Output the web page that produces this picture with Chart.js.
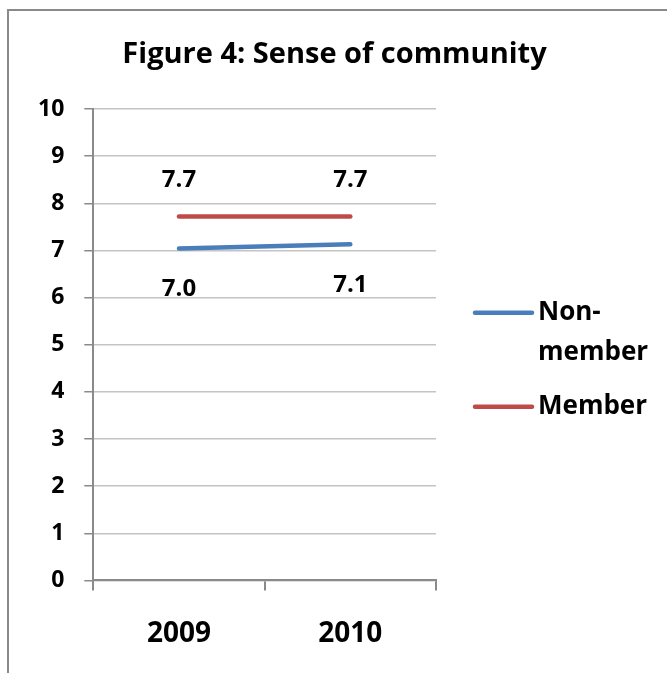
<!DOCTYPE html>
<html>
<head>
<meta charset="utf-8">
<script src="https://cdn.jsdelivr.net/npm/chart.js@4/dist/chart.umd.min.js"></script>
<style>
html,body{margin:0;padding:0;background:#fff;}
canvas{display:block;}
</style>
</head>
<body>
<canvas id="c" width="667" height="673"></canvas>
<script>
const categories = ['2009', '2010'];
const nonMember = [7.04, 7.13];
const member = [7.72, 7.72];
const seriesNames = [['Non-', 'member'], 'Member'];
const yTicks = [0, 1, 2, 3, 4, 5, 6, 7, 8, 9, 10];
const titleText = 'Figure 4: Sense of community';

const FONT = '"Open Sans"';
const BLUE = '#4a7ebb';
const RED = '#be4b48';

const framePlugin = {
  id: 'frame',
  beforeDraw(chart) {
    const ctx = chart.ctx;
    ctx.save();
    ctx.fillStyle = '#fff';
    ctx.fillRect(0, 0, chart.width, chart.height);
    ctx.strokeStyle = '#8a8a8a';
    ctx.lineWidth = 2;
    ctx.strokeRect(8, 10, chart.width + 20, chart.height + 20);
    ctx.font = '700 29px ' + FONT;
    ctx.fillStyle = '#000';
    ctx.textAlign = 'center';
    ctx.textBaseline = 'alphabetic';
    ctx.fillText(titleText, chart.width / 2 + 1, 63);
    ctx.restore();
  }
};

const labelPlugin = {
  id: 'valueLabels',
  afterDatasetsDraw(chart) {
    const ctx = chart.ctx;
    ctx.save();
    ctx.font = '700 24px ' + FONT;
    ctx.fillStyle = '#000';
    ctx.textAlign = 'center';
    ctx.textBaseline = 'middle';
    chart.data.datasets.forEach((ds, di) => {
      const meta = chart.getDatasetMeta(di);
      meta.data.forEach((pt, i) => {
        const off = di === 0 ? 41 : -36;
        ctx.fillText(ds.data[i].toFixed(1), pt.x, pt.y + off);
      });
    });
    ctx.restore();
  }
};

const legendPlugin = {
  id: 'customLegend',
  afterDraw(chart) {
    const ctx = chart.ctx;
    const a = chart.chartArea;
    const x0 = a.right + 39, x1 = a.right + 96, tx = a.right + 102;
    const mid = (a.top + a.bottom) / 2;
    const items = [
      {y: mid - 32, color: chart.data.datasets[0].borderColor, text: seriesNames[0]},
      {y: mid + 62, color: chart.data.datasets[1].borderColor, text: seriesNames[1]}
    ];
    ctx.save();
    ctx.font = '700 26px ' + FONT;
    ctx.fillStyle = '#000';
    ctx.textAlign = 'left';
    ctx.textBaseline = 'middle';
    items.forEach(it => {
      ctx.strokeStyle = it.color;
      ctx.lineWidth = 4.5;
      ctx.lineCap = 'round';
      ctx.beginPath();
      ctx.moveTo(x0, it.y);
      ctx.lineTo(x1, it.y);
      ctx.stroke();
      const lines = Array.isArray(it.text) ? it.text : [it.text];
      lines.forEach((t, k) => ctx.fillText(t, tx, it.y + k * 40));
    });
    ctx.restore();
  }
};

new Chart(document.getElementById('c'), {
  type: 'line',
  data: {
    labels: categories,
    datasets: [
      {label: 'Non-member', data: nonMember, borderColor: BLUE, backgroundColor: BLUE,
       borderWidth: 4.5, borderCapStyle: 'round', pointRadius: 0, tension: 0},
      {label: 'Member', data: member, borderColor: RED, backgroundColor: RED,
       borderWidth: 4.5, borderCapStyle: 'round', pointRadius: 0, tension: 0}
    ]
  },
  options: {
    responsive: false,
    animation: false,
    layout: {padding: {left: 18, right: 231, top: 109, bottom: -5}},
    plugins: {
      legend: {display: false},
      tooltip: {enabled: false},
      title: {display: false}
    },
    scales: {
      x: {
        offset: true,
        grid: {display: true, drawOnChartArea: false, drawTicks: true, tickLength: 10,
               offset: true, color: '#8a8a8a', lineWidth: 2},
        border: {display: true, color: '#8a8a8a', width: 2},
        ticks: {color: '#000', padding: 27, font: {family: FONT, size: 28, weight: '700'}}
      },
      y: {
        min: 0, max: 10,
        afterBuildTicks(scale) { scale.ticks = yTicks.map(v => ({value: v})); },
        grid: {color: '#c4c4c4', lineWidth: 1.5, tickLength: 9, tickColor: '#8a8a8a'},
        border: {display: true, color: '#8a8a8a', width: 2},
        ticks: {color: '#000', padding: 20, font: {family: FONT, size: 23, weight: '700'}}
      }
    }
  },
  plugins: [framePlugin, labelPlugin, legendPlugin]
});
</script>
</body>
</html>
